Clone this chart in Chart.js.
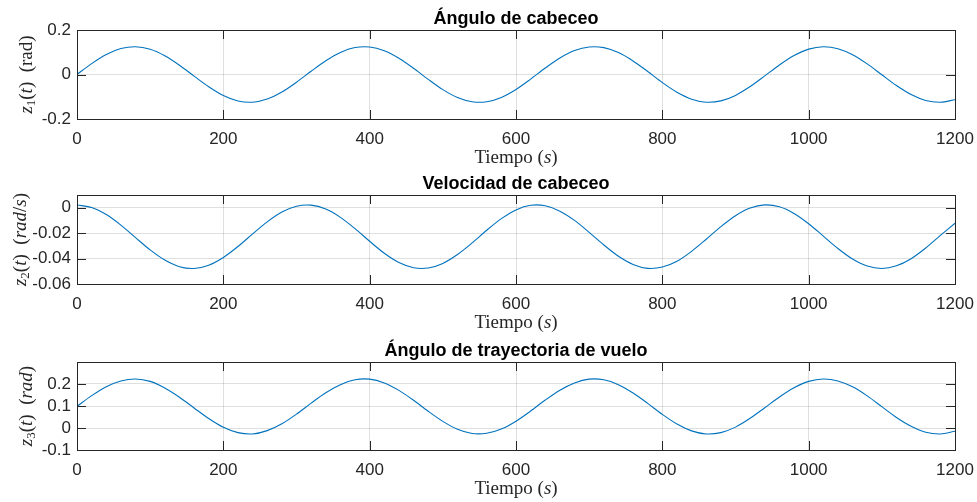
<!DOCTYPE html>
<html>
<head>
<meta charset="utf-8">
<script src="https://cdn.jsdelivr.net/npm/chart.js@4.4.0/dist/chart.umd.min.js"></script>
<style>
  html, body { margin: 0; padding: 0; background: #fff; }
  #wrap { position: relative; width: 977px; height: 502px; }
  #wrap canvas { position: absolute; left: 0; }
</style>
</head>
<body>
<div id="wrap">
  <canvas id="c1" style="top:0px;width:977px;height:167px" width="977" height="167"></canvas>
  <canvas id="c2" style="top:167px;width:977px;height:167px" width="977" height="167"></canvas>
  <canvas id="c3" style="top:334px;width:977px;height:168px" width="977" height="168"></canvas>
</div>
<script>
// time axis (s)
const times = [
  0, 20, 40, 60, 80, 100, 120, 140, 160, 180,
  200, 220, 240, 260, 280, 300, 320, 340, 360, 380,
  400, 420, 440, 460, 480, 500, 520, 540, 560, 580,
  600, 620, 640, 660, 680, 700, 720, 740, 760, 780,
  800, 820, 840, 860, 880, 900, 920, 940, 960, 980,
  1000, 1020, 1040, 1060, 1080, 1100, 1120, 1140, 1160, 1180,
  1200
];

// z1: pitch angle (rad)
const pitchAngle = [
  0, 0.0487, 0.0897, 0.1165, 0.1250, 0.1137, 0.0844, 0.0419, -0.0073, -0.0553,
  -0.0946, -0.1190, -0.1245, -0.1104, -0.0789, -0.0349, 0.0146, 0.0618, 0.0992, 0.1210,
  0.1237, 0.1068, 0.0731, 0.0279, -0.0218, -0.0680, -0.1035, -0.1226, -0.1224, -0.1029,
  -0.0671, -0.0207, 0.0289, 0.0740, 0.1074, 0.1238, 0.1207, 0.0985, 0.0608, 0.0135,
  -0.0360, -0.0798, -0.1109, -0.1246, -0.1186, -0.0939, -0.0543, -0.0062, 0.0429, 0.0853,
  0.1141, 0.1250, 0.1161, 0.0889, 0.0477, -0.0011, -0.0497, -0.0904, -0.1169, -0.1249,
  -0.1132
];

// z2: pitch rate (rad/s)
const pitchRate = [
  0.0022, 0.0002, -0.0054, -0.0137, -0.0235, -0.0332, -0.0412, -0.0464, -0.0478, -0.0452,
  -0.0391, -0.0305, -0.0206, -0.0111, -0.0034, 0.0012, 0.0020, -0.0011, -0.0076, -0.0165,
  -0.0264, -0.0358, -0.0431, -0.0472, -0.0474, -0.0438, -0.0368, -0.0277, -0.0177, -0.0086,
  -0.0017, 0.0019, 0.0015, -0.0027, -0.0100, -0.0194, -0.0293, -0.0382, -0.0446, -0.0477,
  -0.0467, -0.0421, -0.0343, -0.0248, -0.0149, -0.0063, -0.0003, 0.0022, 0.0007, -0.0045,
  -0.0126, -0.0223, -0.0321, -0.0404, -0.0459, -0.0478, -0.0457, -0.0401, -0.0317, -0.0218,
  -0.0122
];

// z3: flight path angle (rad)
const pathAngle = [
  0.098, 0.147, 0.188, 0.214, 0.223, 0.212, 0.182, 0.140, 0.091, 0.043,
  0.003, -0.021, -0.027, -0.012, 0.019, 0.063, 0.113, 0.160, 0.197, 0.219,
  0.222, 0.205, 0.171, 0.126, 0.076, 0.030, -0.006, -0.025, -0.024, -0.005,
  0.031, 0.077, 0.127, 0.172, 0.205, 0.222, 0.219, 0.197, 0.159, 0.112,
  0.062, 0.018, -0.013, -0.027, -0.021, 0.004, 0.044, 0.092, 0.141, 0.183,
  0.212, 0.223, 0.214, 0.187, 0.146, 0.097, 0.048, 0.008, -0.019, -0.027,
  -0.015
];

const xTicks = [0, 200, 400, 600, 800, 1000, 1200];
const xTickLabels = ["0", "200", "400", "600", "800", "1000", "1200"];

const yTicks1 = [-0.2, 0, 0.2];
const yTickLabels1 = ["-0.2", "0", "0.2"];
const yTicks2 = [-0.06, -0.04, -0.02, 0];
const yTickLabels2 = ["-0.06", "-0.04", "-0.02", "0"];
const yTicks3 = [-0.1, 0, 0.1, 0.2];
const yTickLabels3 = ["-0.1", "0", "0.1", "0.2"];

const titles = ["Ángulo de cabeceo", "Velocidad de cabeceo", "Ángulo de trayectoria de vuelo"];

// label pieces: [text, style]  r = roman, i = italic, s = subscript
const xLabelRuns = [["Tiempo (", "r"], ["s", "i"], [")", "r"]];
const yLabelRuns1 = [["z", "i"], ["1", "s"], ["(", "r"], ["t", "i"], [")", "r"], ["  (rad)", "r"]];
const yLabelRuns2 = [["z", "i"], ["2", "s"], ["(", "r"], ["t", "i"], [")", "r"], ["  (", "r"], ["rad", "i"], ["/", "r"], ["s", "i"], [")", "r"]];
const yLabelRuns3 = [["z", "i"], ["3", "s"], ["(", "r"], ["t", "i"], [")", "r"], ["  (", "r"], ["rad", "i"], [")", "r"]];

const axisColor = "#262626";
const lineColor = "#0072BD";
const gridColor = "rgba(38,38,38,0.15)";
const sans = "'Liberation Sans', Arial, Helvetica, sans-serif";
const serif = "'Liberation Serif', 'DejaVu Serif', serif";

function runFont(style, size) {
  if (style === "i") return `italic ${size}px ${serif}`;
  if (style === "s") return `${Math.round(size * 0.7)}px ${serif}`;
  return `${size}px ${serif}`;
}

// draws mixed-font text centered on (0,0) of the current transform
function drawRuns(ctx, runs, size) {
  let total = 0;
  runs.forEach(([t, s]) => { ctx.font = runFont(s, size); total += ctx.measureText(t).width; });
  let x = -total / 2;
  ctx.textAlign = "left";
  ctx.textBaseline = "middle";
  runs.forEach(([t, s]) => {
    ctx.font = runFont(s, size);
    ctx.fillText(t, x, s === "s" ? size * 0.22 : 0);
    x += ctx.measureText(t).width;
  });
}

function makePanel(id, values, yMin, yMax, yTicks, yLabels, title, yRuns, yLabelX, padTop, xAxisHeight) {
  const decor = {
    id: "decor" + id,
    afterDraw(chart) {
      const { ctx, chartArea: a, scales } = chart;
      const xs = scales.x, ys = scales.y;
      ctx.save();
      ctx.strokeStyle = axisColor;
      ctx.lineWidth = 1;
      ctx.beginPath();
      xs.ticks.forEach((t) => {
        const px = Math.round(xs.getPixelForValue(t.value)) + 0.5;
        ctx.moveTo(px, a.bottom); ctx.lineTo(px, a.bottom - 9);
        ctx.moveTo(px, a.top); ctx.lineTo(px, a.top + 9);
      });
      ys.ticks.forEach((t) => {
        const py = Math.round(ys.getPixelForValue(t.value)) + 0.5;
        ctx.moveTo(a.left, py); ctx.lineTo(a.left + 9, py);
        ctx.moveTo(a.right, py); ctx.lineTo(a.right - 9, py);
      });
      ctx.stroke();
      ctx.strokeRect(Math.round(a.left) + 0.5, Math.round(a.top) + 0.5,
        Math.round(a.right - a.left), Math.round(a.bottom - a.top));

      ctx.fillStyle = "#000";
      ctx.font = `bold 18px ${sans}`;
      ctx.textAlign = "center";
      ctx.textBaseline = "alphabetic";
      ctx.fillText(title, (a.left + a.right) / 2, a.top - 6);

      ctx.fillStyle = axisColor;
      ctx.save();
      ctx.translate((a.left + a.right) / 2, a.bottom + 39);
      drawRuns(ctx, xLabelRuns, 19);
      ctx.restore();

      ctx.save();
      ctx.translate(yLabelX, (a.top + a.bottom) / 2);
      ctx.rotate(-Math.PI / 2);
      drawRuns(ctx, yRuns, 19);
      ctx.restore();
      ctx.restore();
    }
  };

  return new Chart(document.getElementById(id), {
    type: "line",
    data: {
      datasets: [{
        data: times.map((t, i) => ({ x: t, y: values[i] })),
        borderColor: lineColor,
        borderWidth: 1.1,
        pointRadius: 0,
        tension: 0.3,
        fill: false
      }]
    },
    options: {
      responsive: false,
      animation: false,
      events: [],
      layout: { padding: { top: padTop, right: 22, left: 0, bottom: 0 } },
      plugins: { legend: { display: false }, tooltip: { enabled: false }, title: { display: false } },
      scales: {
        x: {
          type: "linear",
          min: 0,
          max: 1200,
          afterBuildTicks: (s) => { s.ticks = xTicks.map((v) => ({ value: v })); },
          afterFit: (s) => { s.height = xAxisHeight; s.paddingLeft = 0; s.paddingRight = 0; },
          grid: { color: gridColor, drawTicks: false },
          border: { display: false },
          ticks: {
            autoSkip: false,
            maxRotation: 0,
            padding: 10,
            color: axisColor,
            font: { family: sans, size: 17 },
            callback: (v, i) => xTickLabels[i]
          }
        },
        y: {
          min: yMin,
          max: yMax,
          afterBuildTicks: (s) => { s.ticks = yTicks.map((v) => ({ value: v })); },
          afterFit: (s) => { s.width = 77; s.paddingTop = 0; s.paddingBottom = 0; },
          grid: { color: gridColor, drawTicks: false },
          border: { display: false },
          ticks: {
            padding: 6,
            color: axisColor,
            font: { family: sans, size: 17 },
            callback: (v, i) => yLabels[i]
          }
        }
      }
    },
    plugins: [decor]
  });
}

makePanel("c1", pitchAngle, -0.2, 0.2, yTicks1, yTickLabels1, titles[0], yLabelRuns1, 27, 30, 48);
makePanel("c2", pitchRate, -0.06, 0.01, yTicks2, yTickLabels2, titles[1], yLabelRuns2, 21, 28, 50);
makePanel("c3", pathAngle, -0.1, 0.3, yTicks3, yTickLabels3, titles[2], yLabelRuns3, 27, 28, 52);
</script>
</body>
</html>
